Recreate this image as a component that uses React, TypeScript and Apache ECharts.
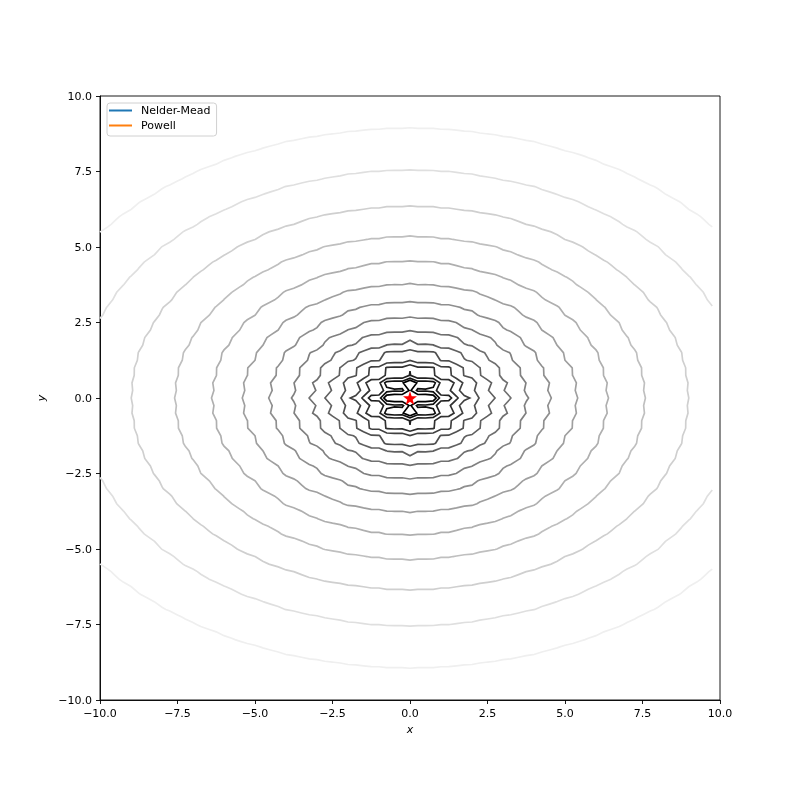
import React, { useEffect, useRef } from "react";
import * as echarts from "echarts";

// Sampling grid of the contoured field (matplotlib: np.arange(-10, 10, 0.25))
const GRID_START = -10;
const GRID_STEP = 0.25;
const GRID_COUNT = 80;

// Bohachevsky test function coefficients (field being contoured)
const FIELD_COEFS = { x2: 1, y2: 2, cx: 0.3, cy: 0.4, fx: 3, fy: 4, c0: 0.7 };

// Contour levels (log-spaced, ratio ~1.40)
const LEVELS = [1.0, 1.403, 1.968, 2.761, 3.873, 5.432, 7.621, 10.69, 15.0, 21.04, 29.51, 41.4, 58.07, 81.47, 114.3, 160.3];
// Gray of each contour, dark (inner) to light (outer)
const LEVEL_COLORS = [
  "#000000", "#101010", "#202020", "#303030", "#404040", "#505050", "#606060", "#707070",
  "#808080", "#8f8f8f", "#9f9f9f", "#afafaf", "#bfbfbf", "#cfcfcf", "#dfdfdf", "#efefef",
];

// Minimum marker
const MINIMUM = [[0, 0]];

// Optimizer paths (legend entries)
const METHODS = ["Nelder-Mead", "Powell"];
const METHOD_COLORS = ["#1f77b4", "#ff7f0e"];

const TICKS = { min: -10, max: 10, interval: 2.5 };

const STAR =
  "path://M0,-1 L0.2245,-0.309 L0.951,-0.309 L0.363,0.118 L0.588,0.809 L0,0.382 L-0.588,0.809 L-0.363,0.118 L-0.951,-0.309 L-0.2245,-0.309 Z";

function field(x: number, y: number): number {
  const c = FIELD_COEFS;
  return (
    c.x2 * x * x + c.y2 * y * y - c.cx * Math.cos(c.fx * Math.PI * x) - c.cy * Math.cos(c.fy * Math.PI * y) + c.c0
  );
}

function contourPaths(xs: number[], ys: number[], z: number[][], L: number): number[][][] {
  const nx = xs.length, ny = ys.length;
  const pts = new Map<number, number[]>();
  const adj = new Map<number, number[]>();
  const hId = (i: number, j: number) => (j * nx + i) * 2;
  const vId = (i: number, j: number) => (j * nx + i) * 2 + 1;
  const pointOf = (id: number) => {
    if (pts.has(id)) return;
    const k = id >> 1;
    const i = k % nx, j = Math.floor(k / nx);
    if ((id & 1) === 0) {
      const a = z[j][i], b = z[j][i + 1];
      const t = (L - a) / (b - a);
      pts.set(id, [xs[i] + t * (xs[i + 1] - xs[i]), ys[j]]);
    } else {
      const a = z[j][i], b = z[j + 1][i];
      const t = (L - a) / (b - a);
      pts.set(id, [xs[i], ys[j] + t * (ys[j + 1] - ys[j])]);
    }
  };
  const link = (a: number, b: number) => {
    pointOf(a); pointOf(b);
    if (!adj.has(a)) adj.set(a, []);
    if (!adj.has(b)) adj.set(b, []);
    adj.get(a)!.push(b);
    adj.get(b)!.push(a);
  };
  for (let j = 0; j < ny - 1; j++) {
    for (let i = 0; i < nx - 1; i++) {
      const v0 = z[j][i], v1 = z[j][i + 1], v2 = z[j + 1][i + 1], v3 = z[j + 1][i];
      const c = (v0 > L ? 1 : 0) | (v1 > L ? 2 : 0) | (v2 > L ? 4 : 0) | (v3 > L ? 8 : 0);
      if (c === 0 || c === 15) continue;
      const e0 = hId(i, j), e1 = vId(i + 1, j), e2 = hId(i, j + 1), e3 = vId(i, j);
      const center = (v0 + v1 + v2 + v3) / 4;
      switch (c) {
        case 1: case 14: link(e3, e0); break;
        case 2: case 13: link(e0, e1); break;
        case 3: case 12: link(e3, e1); break;
        case 4: case 11: link(e1, e2); break;
        case 6: case 9: link(e0, e2); break;
        case 7: case 8: link(e3, e2); break;
        case 5:
          if (center > L) { link(e0, e1); link(e2, e3); } else { link(e3, e0); link(e1, e2); }
          break;
        case 10:
          if (center > L) { link(e3, e0); link(e1, e2); } else { link(e0, e1); link(e2, e3); }
          break;
      }
    }
  }
  const visited = new Set<number>();
  const out: number[][][] = [];
  const walk = (start: number) => {
    const path: number[][] = [];
    let prev = -1, cur = start, last = start;
    while (cur !== -1 && !visited.has(cur)) {
      visited.add(cur);
      path.push(pts.get(cur)!);
      last = cur;
      let next = -1;
      for (const n of adj.get(cur) || []) {
        if (n !== prev && !visited.has(n)) { next = n; break; }
      }
      prev = cur;
      cur = next;
    }
    if (path.length > 2 && (adj.get(last) || []).includes(start)) path.push(pts.get(start)!);
    if (path.length > 1) out.push(path);
  };
  adj.forEach((nb, id) => { if (nb.length === 1 && !visited.has(id)) walk(id); });
  adj.forEach((_nb, id) => { if (!visited.has(id)) walk(id); });
  return out;
}

const fmt = (v: number) => (v < 0 ? "\u2212" : "") + Math.abs(v).toFixed(1);

export default function App() {
  const ref = useRef<HTMLDivElement>(null);
  useEffect(() => {
    if (!ref.current) return;
    const chart = echarts.init(ref.current, null, { renderer: "svg" });

    const xs: number[] = [];
    for (let i = 0; i < GRID_COUNT; i++) xs.push(GRID_START + i * GRID_STEP);
    const ys = xs.slice();
    const z = ys.map((y) => xs.map((x) => field(x, y)));

    const contourData: any[] = [];
    LEVELS.forEach((L, k) => {
      contourPaths(xs, ys, z, L).forEach((p) => {
        contourData.push({ coords: p, lineStyle: { color: LEVEL_COLORS[k] } });
      });
    });

    const font = "DejaVu Sans";
    const axisCommon = {
      type: "value" as const,
      min: TICKS.min,
      max: TICKS.max,
      interval: TICKS.interval,
      axisLine: { show: true, onZero: false, lineStyle: { color: "#000", width: 0.9 } },
      axisTick: { show: true, length: 4, lineStyle: { color: "#000", width: 0.9 } },
      axisLabel: { formatter: fmt, fontSize: 11, color: "#000", margin: 8, fontFamily: font },
      splitLine: { show: false },
      nameLocation: "middle" as const,
      nameTextStyle: { fontStyle: "italic", fontSize: 11, color: "#000", fontFamily: font },
    };

    chart.setOption({
      animation: false,
      textStyle: { fontFamily: font },
      grid: { left: 100, top: 96, width: 620, height: 604, show: true, borderColor: "#000", borderWidth: 0.9, backgroundColor: "transparent" },
      xAxis: { ...axisCommon, name: "x", nameGap: 19 },
      yAxis: { ...axisCommon, name: "y", nameGap: 49 },
      legend: {
        orient: "vertical",
        left: 107,
        top: 103,
        padding: [2, 6, 5, 2],
        itemWidth: 23,
        itemHeight: 2,
        itemGap: 4,
        borderColor: "#d0d0d0",
        borderWidth: 1,
        borderRadius: 3,
        backgroundColor: "rgba(255,255,255,0.8)",
        textStyle: { fontSize: 11, color: "#000", fontFamily: font, lineHeight: 11, padding: [0, 0, 0, 4] },
        data: METHODS.map((m) => ({ name: m, icon: "rect" })),
      },
      series: [
        {
          type: "lines",
          coordinateSystem: "cartesian2d",
          polyline: true,
          silent: true,
          lineStyle: { width: 1.67, opacity: 1, curveness: 0 },
          data: contourData,
          z: 2,
        },
        ...METHODS.map((m, i) => ({
          type: "line",
          name: m,
          data: [] as number[][],
          color: METHOD_COLORS[i],
          lineStyle: { width: 1.67 },
          showSymbol: false,
        })),
        {
          type: "scatter",
          data: MINIMUM,
          symbol: STAR,
          symbolSize: 14,
          itemStyle: { color: "#ff0000", opacity: 1 },
          z: 5,
        },
      ],
    });
    return () => chart.dispose();
  }, []);
  return <div ref={ref} style={{ position: "fixed", left: 0, top: 0, width: 800, height: 800 }} />;
}
